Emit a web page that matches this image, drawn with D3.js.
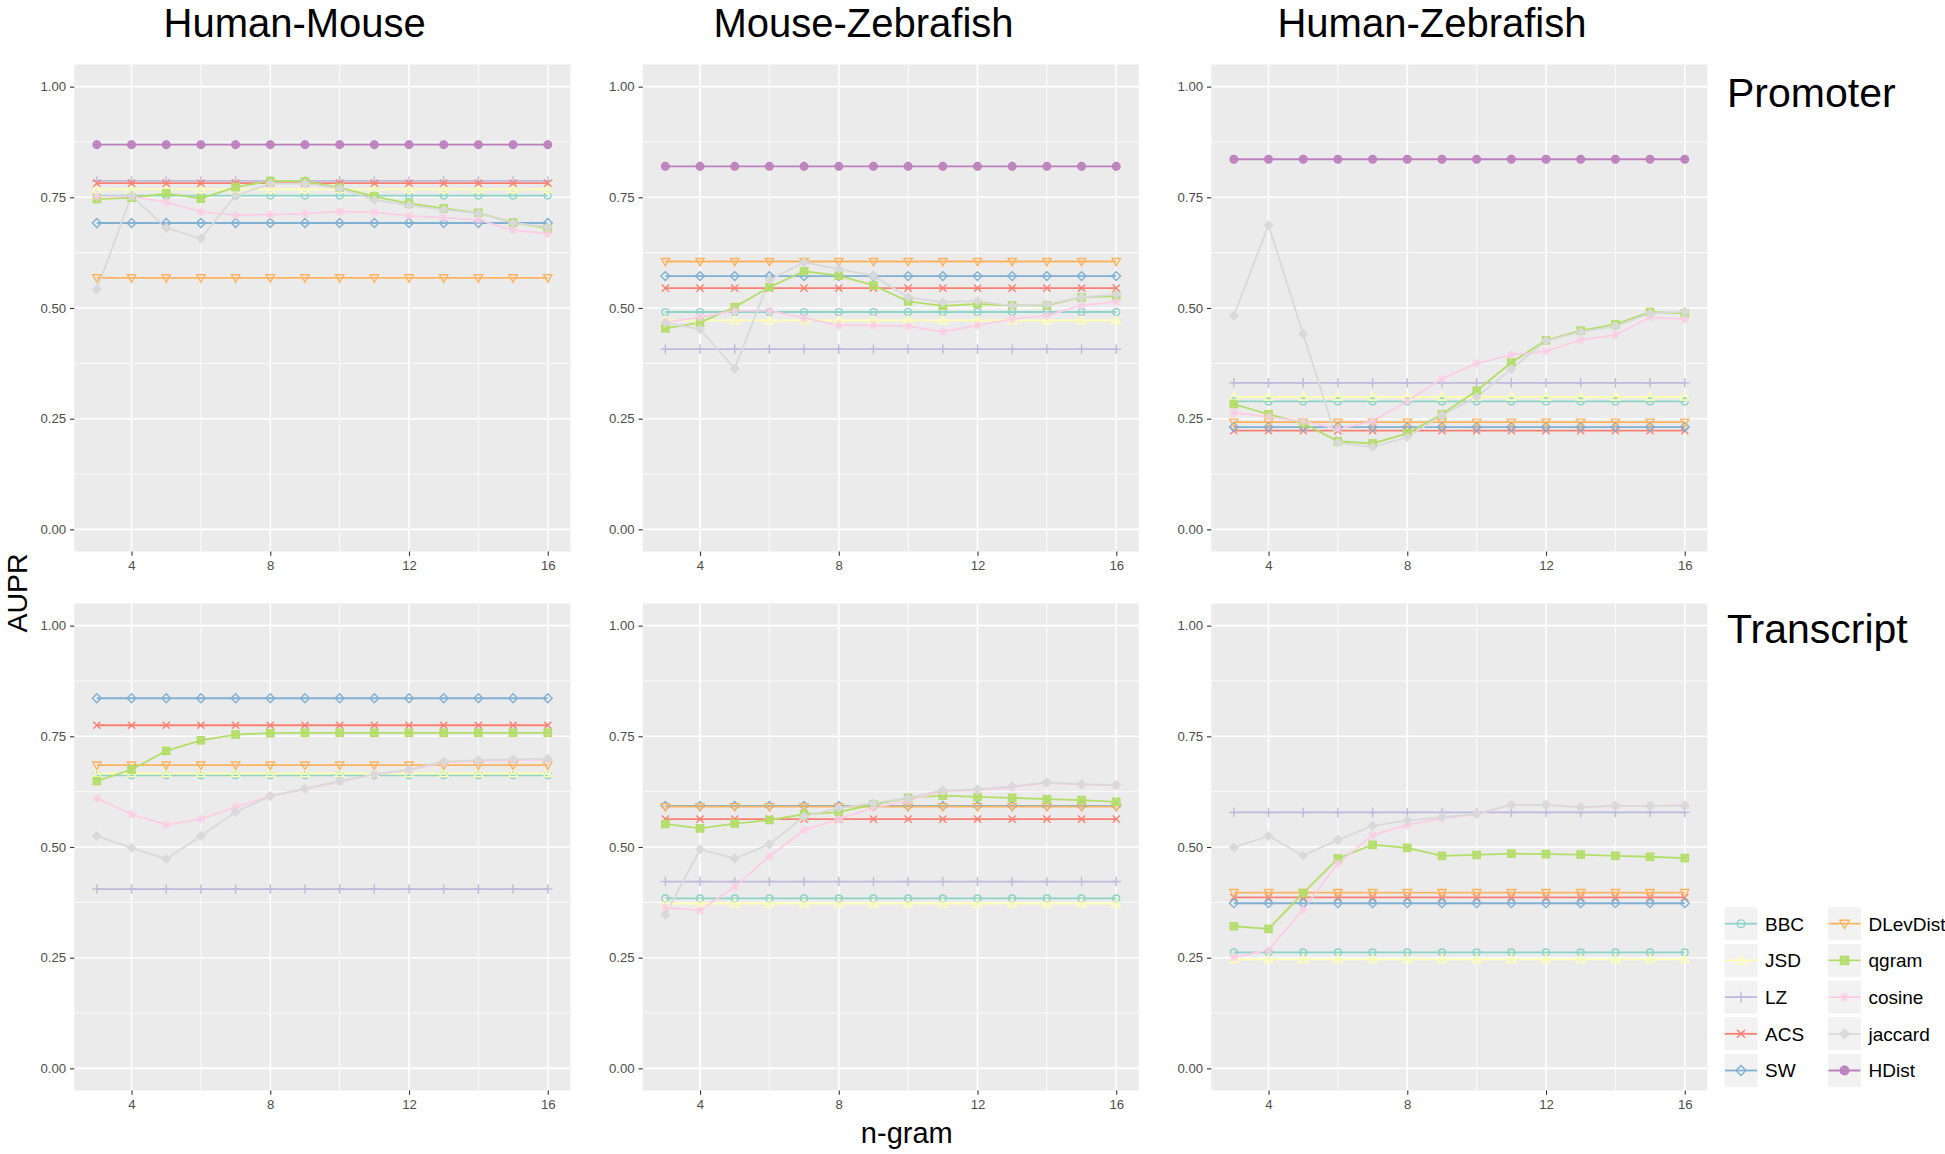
<!DOCTYPE html>
<html>
<head>
<meta charset="utf-8">
<script src="https://cdn.jsdelivr.net/npm/d3@7"></script>
<style>
  html, body { margin: 0; padding: 0; background: #ffffff; }
  svg { display: block; }
  text { font-family: "Liberation Sans", Arial, Helvetica, sans-serif; }
</style>
</head>
<body>
<svg id="chart" width="1945" height="1154"></svg>
<script>
// ---------------- DATA ----------------
const nGram = [3, 4, 5, 6, 7, 8, 9, 10, 11, 12, 13, 14, 15, 16];
const methods = ["BBC", "JSD", "LZ", "ACS", "SW", "DLevDist", "qgram", "cosine", "jaccard", "HDist"];
const methodColors = ["#8DD3C7", "#FFFFB3", "#BEBADA", "#FB8072", "#80B1D3", "#FDB462", "#B3DE69", "#FCCDE5", "#D9D9D9", "#BC80BD"];
const methodShapes = ["circle", "triangle", "plus", "cross", "diamond", "triangleDown", "squareCross", "asterisk", "diamondFilled", "circlePlus"];
const speciesPairs = ["Human-Mouse", "Mouse-Zebrafish", "Human-Zebrafish"];
const regions = ["Promoter", "Transcript"];
const xTickValues = [4, 8, 12, 16];
const yTickValues = [0, 0.25, 0.5, 0.75, 1];
const yTickLabels = ["0.00", "0.25", "0.50", "0.75", "1.00"];

// Methods whose AUPR does not depend on n-gram length (one value per panel)
const flatMethods = ["BBC", "JSD", "LZ", "ACS", "SW", "DLevDist", "HDist"];

// Promoter, Human-Mouse
const promHMFlat    = [0.754, 0.768, 0.787, 0.782, 0.692, 0.568, 0.869];
const promHMQgram   = [0.746, 0.749, 0.759, 0.747, 0.773, 0.787, 0.786, 0.772, 0.752, 0.736, 0.725, 0.715, 0.693, 0.680];
const promHMCosine  = [0.752, 0.752, 0.739, 0.717, 0.710, 0.711, 0.713, 0.718, 0.716, 0.708, 0.704, 0.699, 0.676, 0.668];
const promHMJaccard = [0.542, 0.754, 0.681, 0.657, 0.754, 0.781, 0.781, 0.770, 0.744, 0.732, 0.722, 0.714, 0.692, 0.683];

// Promoter, Mouse-Zebrafish
const promMZFlat    = [0.491, 0.472, 0.407, 0.545, 0.572, 0.605, 0.820];
const promMZQgram   = [0.454, 0.467, 0.502, 0.547, 0.583, 0.573, 0.551, 0.515, 0.505, 0.509, 0.506, 0.506, 0.524, 0.527];
const promMZCosine  = [0.468, 0.479, 0.494, 0.494, 0.477, 0.461, 0.461, 0.459, 0.446, 0.461, 0.475, 0.483, 0.506, 0.514];
const promMZJaccard = [0.467, 0.452, 0.363, 0.564, 0.603, 0.588, 0.573, 0.524, 0.513, 0.516, 0.505, 0.508, 0.524, 0.531];

// Promoter, Human-Zebrafish
const promHZFlat    = [0.289, 0.299, 0.331, 0.223, 0.231, 0.242, 0.836];
const promHZQgram   = [0.283, 0.260, 0.240, 0.199, 0.194, 0.217, 0.260, 0.313, 0.377, 0.427, 0.449, 0.463, 0.491, 0.488];
const promHZCosine  = [0.264, 0.254, 0.244, 0.227, 0.244, 0.290, 0.340, 0.375, 0.394, 0.402, 0.428, 0.439, 0.479, 0.475];
const promHZJaccard = [0.483, 0.687, 0.441, 0.196, 0.186, 0.208, 0.258, 0.299, 0.362, 0.426, 0.446, 0.459, 0.488, 0.492];

// Transcript, Human-Mouse (no HDist)
const tranHMFlat    = [0.662, 0.666, 0.405, 0.775, 0.836, 0.685, null];
const tranHMQgram   = [0.649, 0.675, 0.717, 0.741, 0.754, 0.757, 0.758, 0.758, 0.758, 0.758, 0.758, 0.758, 0.758, 0.758];
const tranHMCosine  = [0.610, 0.574, 0.550, 0.563, 0.590, 0.615, 0.630, 0.647, 0.664, 0.673, 0.691, 0.694, 0.696, 0.697];
const tranHMJaccard = [0.525, 0.498, 0.473, 0.525, 0.579, 0.615, 0.632, 0.649, 0.664, 0.675, 0.693, 0.696, 0.698, 0.699];

// Transcript, Mouse-Zebrafish
const tranMZFlat    = [0.384, 0.372, 0.422, 0.563, 0.593, 0.591, null];
const tranMZQgram   = [0.552, 0.542, 0.553, 0.561, 0.574, 0.579, 0.596, 0.611, 0.616, 0.613, 0.611, 0.608, 0.606, 0.602];
const tranMZCosine  = [0.363, 0.357, 0.410, 0.479, 0.538, 0.563, 0.589, 0.605, 0.626, 0.628, 0.635, 0.645, 0.641, 0.639];
const tranMZJaccard = [0.347, 0.495, 0.474, 0.506, 0.569, 0.588, 0.599, 0.611, 0.628, 0.630, 0.637, 0.646, 0.642, 0.640];

// Transcript, Human-Zebrafish
const tranHZFlat    = [0.262, 0.246, 0.578, 0.386, 0.373, 0.397, null];
const tranHZQgram   = [0.321, 0.315, 0.396, 0.474, 0.505, 0.498, 0.480, 0.482, 0.485, 0.484, 0.483, 0.480, 0.478, 0.475];
const tranHZCosine  = [0.251, 0.267, 0.359, 0.463, 0.527, 0.550, 0.564, 0.574, 0.595, 0.595, 0.590, 0.593, 0.593, 0.595];
const tranHZJaccard = [0.499, 0.525, 0.481, 0.516, 0.548, 0.560, 0.567, 0.575, 0.595, 0.595, 0.590, 0.593, 0.593, 0.593];

const panelData = [
  [[promHMFlat, promHMQgram, promHMCosine, promHMJaccard],
   [promMZFlat, promMZQgram, promMZCosine, promMZJaccard],
   [promHZFlat, promHZQgram, promHZCosine, promHZJaccard]],
  [[tranHMFlat, tranHMQgram, tranHMCosine, tranHMJaccard],
   [tranMZFlat, tranMZQgram, tranMZCosine, tranMZJaccard],
   [tranHZFlat, tranHZQgram, tranHZCosine, tranHZJaccard]]
];

// ---------------- LAYOUT ----------------
const svg = d3.select("#chart");
const panelLeft = [74.3, 642.8, 1211.3];
const panelTop = [64.5, 603.5];
const PW = 496, PH = 487;

const x = d3.scaleLinear().domain([2.35, 16.65]).range([0, PW]);
const y = d3.scaleLinear().domain([-0.05, 1.05]).range([PH, 0]);

function seriesFor(row, col, m) {
  const [flat, qg, cs, jc] = panelData[row][col];
  if (m === "qgram") return qg;
  if (m === "cosine") return cs;
  if (m === "jaccard") return jc;
  const v = flat[flatMethods.indexOf(m)];
  if (v === null || v === undefined) return null;
  return nGram.map(() => v);
}

function drawMarker(g, shape, color, cx, cy, r) {
  const sw = 1.4;
  const mk = g.append("g").attr("transform", `translate(${cx},${cy})`);
  const line = (x1, y1, x2, y2) => mk.append("line").attr("x1", x1).attr("y1", y1).attr("x2", x2).attr("y2", y2)
      .attr("stroke", color).attr("stroke-width", sw);
  switch (shape) {
    case "circle":
      mk.append("circle").attr("r", r * 0.85).attr("fill", "none").attr("stroke", color).attr("stroke-width", sw);
      break;
    case "triangle": {
      const h = r * 1.1;
      mk.append("path").attr("d", `M0,${-h} L${h * 0.95},${h * 0.7} L${-h * 0.95},${h * 0.7} Z`)
        .attr("fill", "none").attr("stroke", color).attr("stroke-width", sw);
      break;
    }
    case "triangleDown": {
      const h = r * 1.1;
      mk.append("path").attr("d", `M0,${h} L${h * 0.95},${-h * 0.7} L${-h * 0.95},${-h * 0.7} Z`)
        .attr("fill", "none").attr("stroke", color).attr("stroke-width", sw);
      break;
    }
    case "plus":
      line(-r * 1.2, 0, r * 1.2, 0); line(0, -r * 1.2, 0, r * 1.2);
      break;
    case "cross":
      line(-r * 0.9, -r * 0.9, r * 0.9, r * 0.9); line(-r * 0.9, r * 0.9, r * 0.9, -r * 0.9);
      break;
    case "diamond":
      mk.append("path").attr("d", `M0,${-r * 1.1} L${r * 1.1},0 L0,${r * 1.1} L${-r * 1.1},0 Z`)
        .attr("fill", "none").attr("stroke", color).attr("stroke-width", sw);
      break;
    case "diamondFilled":
      mk.append("path").attr("d", `M0,${-r * 1.2} L${r * 1.2},0 L0,${r * 1.2} L${-r * 1.2},0 Z`)
        .attr("fill", color).attr("stroke", color).attr("stroke-width", 0.5);
      break;
    case "squareCross": {
      const s = r * 0.9;
      mk.append("rect").attr("x", -s).attr("y", -s).attr("width", 2 * s).attr("height", 2 * s)
        .attr("fill", color).attr("fill-opacity", 0.75).attr("stroke", color).attr("stroke-width", sw);
      line(-s, -s, s, s); line(-s, s, s, -s);
      break;
    }
    case "asterisk":
      line(-r, 0, r, 0); line(0, -r * 1.1, 0, r * 1.1);
      line(-r * 0.8, -r * 0.8, r * 0.8, r * 0.8); line(-r * 0.8, r * 0.8, r * 0.8, -r * 0.8);
      break;
    case "circlePlus":
      mk.append("circle").attr("r", r * 0.95).attr("fill", color).attr("fill-opacity", 0.85)
        .attr("stroke", color).attr("stroke-width", sw);
      line(-r * 0.95, 0, r * 0.95, 0); line(0, -r * 0.95, 0, r * 0.95);
      break;
  }
}

const lineGen = d3.line().x((d, i) => x(nGram[i])).y(d => y(d));

regions.forEach((region, row) => {
  speciesPairs.forEach((pair, col) => {
    const g = svg.append("g").attr("transform", `translate(${panelLeft[col]},${panelTop[row]})`);
    g.append("rect").attr("width", PW).attr("height", PH).attr("fill", "#EBEBEB");

    // minor grid
    const xMinor = [6, 10, 14];
    const yMinor = [0.125, 0.375, 0.625, 0.875];
    g.selectAll(".xminor").data(xMinor).enter().append("line")
      .attr("x1", d => x(d)).attr("x2", d => x(d)).attr("y1", 0).attr("y2", PH)
      .attr("stroke", "#ffffff").attr("stroke-width", 0.8);
    g.selectAll(".yminor").data(yMinor).enter().append("line")
      .attr("y1", d => y(d)).attr("y2", d => y(d)).attr("x1", 0).attr("x2", PW)
      .attr("stroke", "#ffffff").attr("stroke-width", 0.8);
    // major grid
    g.selectAll(".xmajor").data(xTickValues).enter().append("line")
      .attr("x1", d => x(d)).attr("x2", d => x(d)).attr("y1", 0).attr("y2", PH)
      .attr("stroke", "#ffffff").attr("stroke-width", 1.6);
    g.selectAll(".ymajor").data(yTickValues).enter().append("line")
      .attr("y1", d => y(d)).attr("y2", d => y(d)).attr("x1", 0).attr("x2", PW)
      .attr("stroke", "#ffffff").attr("stroke-width", 1.6);

    // axes
    const yAxis = d3.axisLeft(y).tickValues(yTickValues)
      .tickFormat((d, i) => yTickLabels[i]).tickSize(4.3).tickPadding(3.8);
    const ya = g.append("g").call(yAxis);
    ya.select(".domain").remove();
    ya.selectAll(".tick line").attr("stroke", "#333333").attr("stroke-width", 1.1);
    ya.selectAll(".tick text").attr("fill", "#4D4D4D").style("font-size", "13.2px")
      .style("font-family", '"Liberation Sans", Arial, sans-serif');

    const xAxis = d3.axisBottom(x).tickValues(xTickValues).tickSize(4.3).tickPadding(4.6);
    const xa = g.append("g").attr("transform", `translate(0,${PH})`).call(xAxis);
    xa.select(".domain").remove();
    xa.selectAll(".tick line").attr("stroke", "#333333").attr("stroke-width", 1.1);
    xa.selectAll(".tick text").attr("fill", "#4D4D4D").style("font-size", "13.2px")
      .style("font-family", '"Liberation Sans", Arial, sans-serif');

    // lines
    methods.forEach((m, mi) => {
      const vals = seriesFor(row, col, m);
      if (!vals) return;
      g.append("path").datum(vals).attr("d", lineGen)
        .attr("fill", "none").attr("stroke", methodColors[mi]).attr("stroke-width", 1.8);
    });
    // points
    methods.forEach((m, mi) => {
      const vals = seriesFor(row, col, m);
      if (!vals) return;
      vals.forEach((v, i) => drawMarker(g, methodShapes[mi], methodColors[mi], x(nGram[i]), y(v), 4));
    });
  });
});

// column titles
const titleX = [294.7, 863.5, 1432];
speciesPairs.forEach((t, i) => {
  svg.append("text").attr("x", titleX[i]).attr("y", 36.5).attr("text-anchor", "middle")
    .style("font-size", "40px").attr("fill", "#000").text(t);
});
// row strip labels
const stripY = [107, 642.6];
regions.forEach((r, i) => {
  svg.append("text").attr("x", 1727).attr("y", stripY[i])
    .style("font-size", "41px").attr("fill", "#000").text(r);
});
// axis titles
svg.append("text").attr("transform", "translate(26.5,593) rotate(-90)").attr("text-anchor", "middle")
  .style("font-size", "28.5px").attr("fill", "#000").text("AUPR");
svg.append("text").attr("x", 906.8).attr("y", 1143).attr("text-anchor", "middle")
  .style("font-size", "29px").attr("fill", "#000").text("n-gram");

// legend
const legX = [1724, 1827.5];
const legY0 = 906.7, legStep = 36.7, keyS = 34;
methods.forEach((m, i) => {
  const c = Math.floor(i / 5), r = i % 5;
  const kx = legX[c], ky = legY0 + r * legStep;
  const lg = svg.append("g");
  lg.append("rect").attr("x", kx).attr("y", ky).attr("width", keyS).attr("height", keyS)
    .attr("fill", "#F2F2F2").attr("stroke", "#ffffff").attr("stroke-width", 1);
  lg.append("line").attr("x1", kx + 1).attr("x2", kx + keyS - 1).attr("y1", ky + keyS / 2).attr("y2", ky + keyS / 2)
    .attr("stroke", methodColors[i]).attr("stroke-width", 1.8);
  drawMarker(lg, methodShapes[i], methodColors[i], kx + keyS / 2, ky + keyS / 2, 4.5);
  lg.append("text").attr("x", kx + 41).attr("y", ky + keyS / 2 + 6.8)
    .style("font-size", "19px").attr("fill", "#000").text(m);
});
</script>
</body>
</html>
